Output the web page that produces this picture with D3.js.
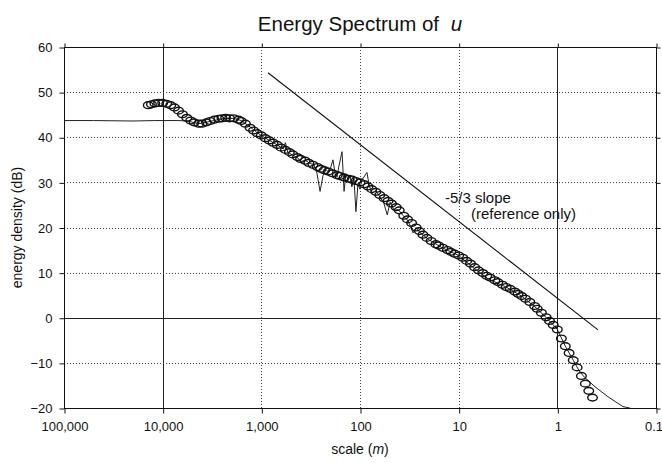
<!DOCTYPE html>
<html>
<head>
<meta charset="utf-8">
<script src="https://cdn.jsdelivr.net/npm/d3@7"></script>
<style>
  html, body { margin: 0; padding: 0; background: #fff; }
  svg { display: block; }
  text { font-family: "Liberation Sans", Arial, Helvetica, sans-serif; fill: #111; }
</style>
</head>
<body>
<svg id="chart" width="662" height="463"></svg>
<script>
// ---------------- DATA ----------------
const xTickValues = [100000, 10000, 1000, 100, 10, 1, 0.1];
const xTickLabels = ["100,000", "10,000", "1,000", "100", "10", "1", "0.1"];
const yTickValues = [-20, -10, 0, 10, 20, 30, 40, 50, 60];

// circle series: scale (m) and energy density (dB)
const circleScale = [
  14000, 13000, 12000, 11000, 10000,
  9100, 8300, 7600, 6900, 6300, 5700, 5200, 4800, 4300, 4000, 3600, 3300, 3000, 2700, 2500,
  2300, 2100, 1900, 1700, 1600, 1450, 1300, 1200, 1100, 1000,
  910, 830, 760, 690, 630, 570, 520, 480, 430, 400, 360, 330, 300, 270, 250,
  230, 210, 190, 170, 160, 145, 130, 120, 110, 100,
  91, 83, 76, 69, 63, 57, 52, 48, 43, 40, 36, 33, 30, 27, 25,
  23, 21, 19, 17, 16, 14.5, 13, 12, 11, 10,
  9.1, 8.3, 7.6, 6.9, 6.3, 5.7, 5.2, 4.8, 4.3, 4.0, 3.6, 3.3, 3.0, 2.7, 2.5,
  2.3, 2.1, 1.9, 1.7, 1.6, 1.45, 1.3, 1.2, 1.1, 1.0,
  0.91, 0.83, 0.76, 0.69, 0.63, 0.57, 0.52, 0.48, 0.44
];
const circleDb = [
  47.1, 47.3, 47.5, 47.6, 47.6,
  47.4, 47.1, 46.6, 45.9, 45.1, 44.3, 43.7, 43.3, 43.0, 43.0, 43.3, 43.6, 43.9, 44.1, 44.2,
  44.3, 44.2, 44.2, 43.9, 43.6, 43.0, 42.1, 41.5, 40.9, 40.4,
  39.8, 39.3, 38.8, 38.3, 37.7, 37.2, 36.7, 36.2, 35.6, 35.2, 34.8, 34.3, 33.9, 33.4, 33.0,
  32.7, 32.4, 32.0, 31.6, 31.4, 31.1, 30.8, 30.6, 30.3, 30.0,
  29.6, 29.1, 28.5, 27.9, 27.2, 26.5, 25.9, 25.3, 24.5, 23.8, 22.6, 21.8, 21.0, 20.0, 19.2,
  18.4, 17.7, 17.0, 16.3, 16.0, 15.5, 15.0, 14.6, 14.2, 13.8,
  13.3, 12.6, 12.0, 11.2, 10.5, 9.9, 9.3, 8.9, 8.3, 7.9, 7.3, 6.8, 6.4, 5.8, 5.3,
  4.8, 4.2, 3.5, 2.6, 2.0, 1.1, 0.1, -0.7, -1.6, -2.6,
  -4.6, -6.3, -7.8, -9.4, -11.0, -12.9, -14.6, -16.2, -17.7
];

// line series: scale (m) and energy density (dB)
const lineScale = [
  100000, 50000, 20000, 12000, 7000, 5600, 4300, 3300, 2500, 1900, 1600, 1300, 1100, 1000,
  830, 690, 600, 570, 540, 480, 430, 400, 360, 321, 292, 273, 254, 237, 221, 206, 197, 188,
  179, 171, 164, 152, 145, 139, 132, 126, 121, 115, 110, 105, 100, 96, 91, 85, 81, 76, 69,
  63, 57.5, 53, 49.4, 45, 41, 36.5, 32.5, 29, 27, 24.5, 20, 15, 10, 7, 5, 3.3, 2.3, 1.6,
  1.2, 1.0, 0.83, 0.69, 0.6, 0.53, 0.415, 0.307, 0.216, 0.184
];
const lineDb = [
  43.7, 43.7, 43.6, 43.7, 43.7, 43.6, 43.0, 43.5, 44.1, 44.2, 43.7, 42.3, 41.0, 40.4,
  39.3, 38.3, 37.4, 38.8, 36.7, 36.0, 35.5, 34.6, 34.9, 34.2, 33.9, 32.0, 28.0, 31.5, 32.8, 32.2, 33.5, 35.0,
  32.0, 31.2, 33.5, 36.8, 28.0, 31.8, 30.5, 31.6, 29.0, 30.8, 23.5, 29.5, 28.5, 30.5, 31.2, 32.2, 29.5, 27.6, 28.2,
  26.8, 25.5, 22.8, 25.6, 23.8, 24.0, 22.6, 21.5, 18.8, 20.0, 18.8, 17.3, 15.6, 13.8, 11.0, 8.6, 6.8, 4.8, 2.0,
  -0.7, -2.6, -6.3, -9.4, -11.8, -13.2, -15.3, -17.5, -19.7, -20.0
];

// -5/3 reference line end points
const refScale = [856, 0.387];
const refDb = [54.3, -2.7];

const titleText = "Energy Spectrum of ";
const titleVar = "u";
const yLabel = "energy density (dB)";
const annot1 = "-5/3 slope";
const annot2 = "(reference only)";

// ---------------- CHART ----------------
const svg = d3.select("#chart");
const L = 64, R = 656, T = 47, B = 408;
const FONT = "Liberation Sans, Arial, sans-serif";

const x = d3.scaleLog().domain([100000, 0.1]).range([L, R]);
const y = d3.scaleLinear().domain([-20, 60]).range([B, T]);

// grid lines
const grid = svg.append("g");
const solidX = [10000, 1];
const solidY = [0];
grid.selectAll(".gx").data(xTickValues.slice(1, -1)).enter().append("line")
  .attr("x1", d => Math.round(x(d)) + 0.5).attr("x2", d => Math.round(x(d)) + 0.5)
  .attr("y1", T).attr("y2", B)
  .attr("stroke", d => solidX.includes(d) ? "#222" : "#444")
  .attr("stroke-width", 1)
  .attr("stroke-dasharray", d => solidX.includes(d) ? null : "1,2");
grid.selectAll(".gy").data(yTickValues.slice(1, -1)).enter().append("line")
  .attr("x1", L).attr("x2", R)
  .attr("y1", d => Math.round(y(d)) + 0.5).attr("y2", d => Math.round(y(d)) + 0.5)
  .attr("stroke", d => solidY.includes(d) ? "#222" : "#444")
  .attr("stroke-width", 1)
  .attr("stroke-dasharray", d => solidY.includes(d) ? null : "1,2");

// frame
svg.append("rect")
  .attr("x", L + 0.5).attr("y", T + 0.5)
  .attr("width", R - L).attr("height", B - T)
  .attr("fill", "none").attr("stroke", "#111").attr("stroke-width", 1);

// axes
const xAxis = d3.axisBottom(x).tickValues(xTickValues)
  .tickFormat((d, i) => xTickLabels[i]).tickSize(5).tickPadding(8);
const gx = svg.append("g").attr("transform", `translate(0.5,${B + 0.5})`).call(xAxis);
gx.select(".domain").remove();
gx.selectAll("text").attr("font-size", 13).attr("font-family", FONT).attr("fill", "#111");
gx.selectAll("text").filter(d => d === 0.1).attr("text-anchor", "end").attr("dx", 6);
gx.selectAll("line").attr("stroke", "#111");

const xAxisTop = d3.axisTop(x).tickValues(xTickValues).tickFormat("").tickSize(4);
const gxt = svg.append("g").attr("transform", `translate(0.5,${T + 0.5})`).call(xAxisTop);
gxt.select(".domain").remove();
gxt.selectAll("line").attr("stroke", "#111");

const yAxis = d3.axisLeft(y).tickValues(yTickValues).tickSize(5).tickPadding(7);
const gy = svg.append("g").attr("transform", `translate(${L + 0.5},0.5)`).call(yAxis);
gy.select(".domain").remove();
gy.selectAll("text").attr("font-size", 13).attr("font-family", FONT).attr("fill", "#111");
gy.selectAll("line").attr("stroke", "#111");

const yAxisR = d3.axisRight(y).tickValues(yTickValues).tickFormat("").tickSize(4);
const gyr = svg.append("g").attr("transform", `translate(${R + 0.5},0.5)`).call(yAxisR);
gyr.select(".domain").remove();
gyr.selectAll("line").attr("stroke", "#111");

// line series
const lineData = lineScale.map((s, i) => [s, lineDb[i]]);
svg.append("path")
  .datum(lineData)
  .attr("fill", "none").attr("stroke", "#222").attr("stroke-width", 1)
  .attr("d", d3.line().x(d => x(d[0])).y(d => y(d[1])));

// reference line
const refData = refScale.map((s, i) => [s, refDb[i]]);
svg.append("path")
  .datum(refData)
  .attr("fill", "none").attr("stroke", "#111").attr("stroke-width", 1.1)
  .attr("d", d3.line().x(d => x(d[0])).y(d => y(d[1])));

// circle series
const circData = circleScale.map((s, i) => [s, circleDb[i]]);
svg.append("g").selectAll("ellipse").data(circData).enter().append("ellipse")
  .attr("cx", d => x(d[0])).attr("cy", d => y(d[1]))
  .attr("rx", 4.8).attr("ry", 3.4)
  .attr("fill", "none").attr("stroke", "#111").attr("stroke-width", 1.4);

// annotation
svg.append("text").attr("x", 445).attr("y", 203).attr("font-size", 15).text(annot1);
svg.append("text").attr("x", 471).attr("y", 219).attr("font-size", 15).text(annot2);

// title
const title = svg.append("text").attr("x", 360).attr("y", 31)
  .attr("text-anchor", "middle").attr("font-size", 20.5);
title.append("tspan").text(titleText);
title.append("tspan").attr("dx", 6).attr("font-style", "italic").text(titleVar);

// axis labels
const xl = svg.append("text").attr("x", 360).attr("y", 454)
  .attr("text-anchor", "middle").attr("font-size", 14);
xl.append("tspan").text("scale (");
xl.append("tspan").attr("font-style", "italic").text("m");
xl.append("tspan").text(")");

svg.append("text")
  .attr("transform", `translate(22,${(T + B) / 2}) rotate(-90)`)
  .attr("text-anchor", "middle").attr("font-size", 14)
  .text(yLabel);
</script>
</body>
</html>
